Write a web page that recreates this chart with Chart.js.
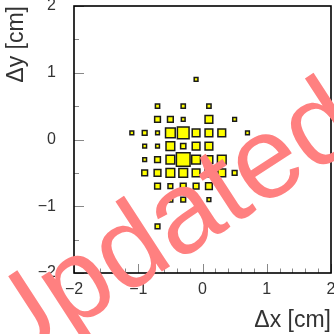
<!DOCTYPE html>
<html>
<head>
<meta charset="utf-8">
<script src="https://cdn.jsdelivr.net/npm/chart.js@4"></script>
<style>
  html, body { margin: 0; padding: 0; background: #fff; }
  #wrap { width: 334px; height: 334px; position: relative; }
</style>
</head>
<body>
<div id="wrap"><canvas id="myChart"></canvas></div>
<script>
// bin centres (cm) and bin contents, one entry per filled cell
var binX = [
  -0.1,
  -0.7, -0.3, 0.1,
  -0.7, -0.5, -0.3, 0.1, 0.5,
  -1.1, -0.9, -0.7, -0.5, -0.3, -0.1, 0.1, 0.3, 0.7,
  -0.9, -0.7, -0.5, -0.3, -0.1, 0.1,
  -0.9, -0.7, -0.5, -0.3, -0.1, 0.1, 0.3,
  -0.9, -0.7, -0.5, -0.3, -0.1, 0.1, 0.3, 0.5,
  -0.7, -0.5, -0.3, -0.1, 0.1,
  -0.5, -0.3, -0.1, 0.1,
  -0.7
];
var binY = [
  0.9,
  0.5, 0.5, 0.5,
  0.3, 0.3, 0.3, 0.3, 0.3,
  0.1, 0.1, 0.1, 0.1, 0.1, 0.1, 0.1, 0.1, 0.1,
  -0.1, -0.1, -0.1, -0.1, -0.1, -0.1,
  -0.3, -0.3, -0.3, -0.3, -0.3, -0.3, -0.3,
  -0.5, -0.5, -0.5, -0.5, -0.5, -0.5, -0.5, -0.5,
  -0.7, -0.7, -0.7, -0.7, -0.7,
  -0.9, -0.9, -0.9, -0.9,
  -1.3
];
var counts = [
  3,
  3.5, 3.5, 3.5,
  5, 5, 3, 7, 3,
  3, 4, 3, 9, 11, 7, 7, 7, 3,
  3, 3, 8, 4.5, 7, 7,
  3, 5, 8, 13, 8, 7, 8,
  5, 6, 8, 8, 7, 7, 7, 4,
  5, 4, 5, 5, 6,
  4, 4, 4, 3,
  4
];
var binWidth = 0.2;
var axisMin = -2, axisMax = 2;

var maxCount = Math.max.apply(null, counts);
var points = binX.map(function (x, i) { return { x: x, y: binY[i], c: counts[i] }; });

function minusLabel(v) {
  if (Math.abs(v - Math.round(v)) > 1e-6) return '';
  var r = Math.round(v);
  return r < 0 ? '\u2212' + (-r) : String(r);
}

var rootFrame = {
  id: 'rootFrame',
  afterDatasetsDraw: function (chart) {
    var c = chart.ctx, a = chart.chartArea;
    var xs = chart.scales.x, ys = chart.scales.y;
    c.save();
    c.strokeStyle = '#888';
    c.lineWidth = 1;
    c.beginPath();
    xs.ticks.forEach(function (t) {
      var px = Math.round(xs.getPixelForValue(t.value)) + 0.5;
      var major = Math.abs(t.value - Math.round(t.value)) < 1e-6;
      c.moveTo(px, a.bottom);
      c.lineTo(px, a.bottom - (major ? 9 : 4.5));
    });
    ys.ticks.forEach(function (t) {
      var py = Math.round(ys.getPixelForValue(t.value)) + 0.5;
      var major = Math.abs(t.value - Math.round(t.value)) < 1e-6;
      c.moveTo(a.left, py);
      c.lineTo(a.left + (major ? 10 : 5), py);
    });
    c.stroke();
    c.strokeStyle = '#000';
    c.lineWidth = 1.6;
    c.strokeRect(a.left, a.top, a.right - a.left, a.bottom - a.top);
    c.restore();
  },
  afterDraw: function (chart) {
    // "Updated" stamp over the whole plot
    var c = chart.ctx;
    c.save();
    c.translate(-2, 378);
    c.rotate(-33 * Math.PI / 180);
    c.fillStyle = '#ff8080';
    c.font = '116px "Liberation Sans", Arial, sans-serif';
    c.textBaseline = 'alphabetic';
    c.fillText('Updated', 0, 0);
    c.restore();
  }
};

var ctx = document.getElementById('myChart');
var myChart = new Chart(ctx, {
  type: 'scatter',
  data: {
    datasets: [{
      data: points,
      pointStyle: 'rect',
      backgroundColor: '#ffff00',
      borderColor: '#1a1a1a',
      borderWidth: 1.5,
      pointRadius: function (context) {
        var p = context.raw;
        var xs = context.chart.scales.x;
        if (!p || !xs) return 2;
        var binPx = Math.abs(xs.getPixelForValue(binWidth) - xs.getPixelForValue(0));
        var side = binPx * p.c / maxCount + 0.8;
        return side / Math.SQRT2;
      },
      pointHoverRadius: 0
    }]
  },
  plugins: [rootFrame],
  options: {
    responsive: true,
    maintainAspectRatio: false,
    animation: false,
    events: [],
    layout: { padding: { top: 6, right: 3, left: 0, bottom: 0 } },
    plugins: {
      legend: { display: false },
      tooltip: { enabled: false }
    },
    scales: {
      x: {
        type: 'linear',
        min: axisMin,
        max: axisMax,
        grid: { display: false, drawTicks: false },
        border: { display: false },
        ticks: {
          stepSize: 0.2,
          autoSkip: false,
          maxRotation: 0,
          padding: 7,
          color: '#333',
          font: { family: '"Liberation Sans", Arial, sans-serif', size: 16 },
          callback: minusLabel
        },
        title: {
          display: true,
          text: '\u0394x [cm]',
          align: 'end',
          color: '#333',
          font: { family: '"Liberation Sans", Arial, sans-serif', size: 23 },
          padding: { top: 0, bottom: 0 }
        },
        afterFit: function (s) { s.height = 61; s.paddingLeft = 0; s.paddingRight = 0; }
      },
      y: {
        type: 'linear',
        min: axisMin,
        max: axisMax,
        grid: { display: false, drawTicks: false },
        border: { display: false },
        ticks: {
          stepSize: 0.5,
          autoSkip: false,
          padding: 18,
          color: '#333',
          font: { family: '"Liberation Sans", Arial, sans-serif', size: 16 },
          callback: minusLabel
        },
        title: {
          display: true,
          text: '\u0394y [cm]',
          align: 'end',
          color: '#333',
          font: { family: '"Liberation Sans", Arial, sans-serif', size: 23 },
          padding: { top: 3, bottom: 0 }
        },
        afterFit: function (s) { s.width = 74; s.paddingTop = 0; s.paddingBottom = 0; }
      }
    }
  }
});
</script>
</body>
</html>
